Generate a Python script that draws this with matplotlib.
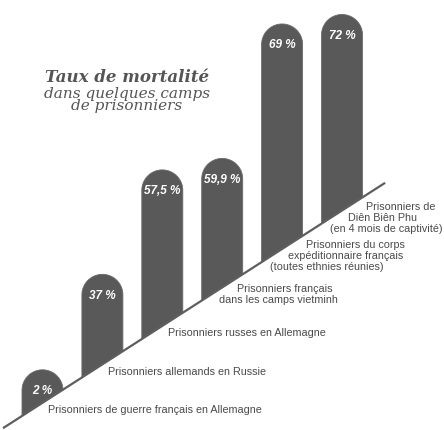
import numpy as np
import matplotlib.pyplot as plt
from matplotlib.patches import Polygon

# categories (one per bar), printed rates and drawn bar heights above the slanted baseline
categories = [
    "Prisonniers de guerre français en Allemagne",
    "Prisonniers allemands en Russie",
    "Prisonniers russes en Allemagne",
    "Prisonniers français\ndans les camps vietminh",
    "Prisonniers du corps\nexpéditionnaire français\n(toutes ethnies réunies)",
    "Prisonniers de\nDiên Biên Phu\n(en 4 mois de captivité)",
]
rates = [2, 37, 57.5, 59.9, 69, 72]
bar_heights = [33, 90, 156, 129, 225, 196]

title_lines = ["Taux de mortalité", "dans quelques camps", "de prisonniers"]

BAR_COLOR = "#595959"
TEXT_COLOR = "#4a4a4a"
SANS = ["Liberation Sans", "DejaVu Sans"]

W, H = 444, 430
fig = plt.figure(figsize=(W / 100, H / 100), dpi=100)
ax = fig.add_axes([0, 0, 1, 1])
ax.set_axis_off()
renderer = fig.canvas.get_renderer()

# x: category index, y: pixel-like units from the bottom
step_px = 59.9
x0 = -42.5 / step_px
ax.set_xlim(x0, x0 + W / step_px)
ax.set_ylim(0, H)
px_x = step_px  # pixels per x unit
slope = 38.46
base0 = 27.2


def baseline(x):
    return base0 + slope * x


def fit_size(text, width_px, **kw):
    # font size that gives the text the wanted width in pixels
    t = ax.text(0, 0, text, fontsize=10, **kw)
    w = t.get_window_extent(renderer).width
    t.remove()
    return 10 * width_px / w


# slanted baseline
xs = np.array([-0.66, 5.72])
ax.plot(xs, baseline(xs), color="#5e5e5e", lw=1.6, solid_capstyle="butt", zorder=3)

hw = 20.5 / px_x   # half bar width in x units
r_y = 20.5         # dome radius in y units
t = np.linspace(0, np.pi, 60)

pct_kw = dict(fontweight="bold", fontstyle="italic", family=SANS)
pct_size = min(fit_size("72 %", 27, **pct_kw), 9.5)

for i, (h, v) in enumerate(zip(bar_heights, rates)):
    top = baseline(i) + h
    cy = top - r_y
    arc = np.column_stack([i + hw * np.cos(t), cy + r_y * np.sin(t)])
    pts = np.vstack([[i + hw, baseline(i + hw)], arc, [i - hw, baseline(i - hw)]])
    ax.add_patch(Polygon(pts, closed=True, facecolor=BAR_COLOR, edgecolor="#6a6a6a",
                         lw=0.6, zorder=2))
    label = f"{v:g} %".replace(".", ",")
    size = min(pct_size, fit_size(label, 37, **pct_kw))
    ax.text(i, cy - 1, label, ha="center", va="center", color="white",
            fontsize=size, zorder=4, **pct_kw)

# category labels under the baseline, lines shifted along the slope
cat_size = min(fit_size(categories[0], 214, family=SANS), 8.5)
dx_line = 18 / px_x
dy_line = 11
for i, cat in enumerate(categories):
    lines = cat.split("\n")
    n = len(lines)
    xa = i + hw - 15 / px_x
    ya = baseline(xa) - 11
    for k, line in enumerate(lines):
        off = k - (n - 1) / 2
        ax.text(xa - off * dx_line, ya - off * dy_line, line, ha="left", va="center",
                color=TEXT_COLOR, fontsize=cat_size, family=SANS, zorder=4)

# title block
tx = (127 - 42.5) / px_x
ax.text(tx, 348, title_lines[0], ha="center", va="baseline", color="#555555",
        fontsize=12, fontweight="bold", fontstyle="italic", family="DejaVu Serif")
ax.text(tx, 320, "\n".join(title_lines[1:]), ha="center", va="baseline",
        multialignment="center", linespacing=0.8, color="#555555",
        fontsize=11, fontstyle="italic", family="DejaVu Serif")

fig.savefig("out.png", dpi=100, facecolor="white")
